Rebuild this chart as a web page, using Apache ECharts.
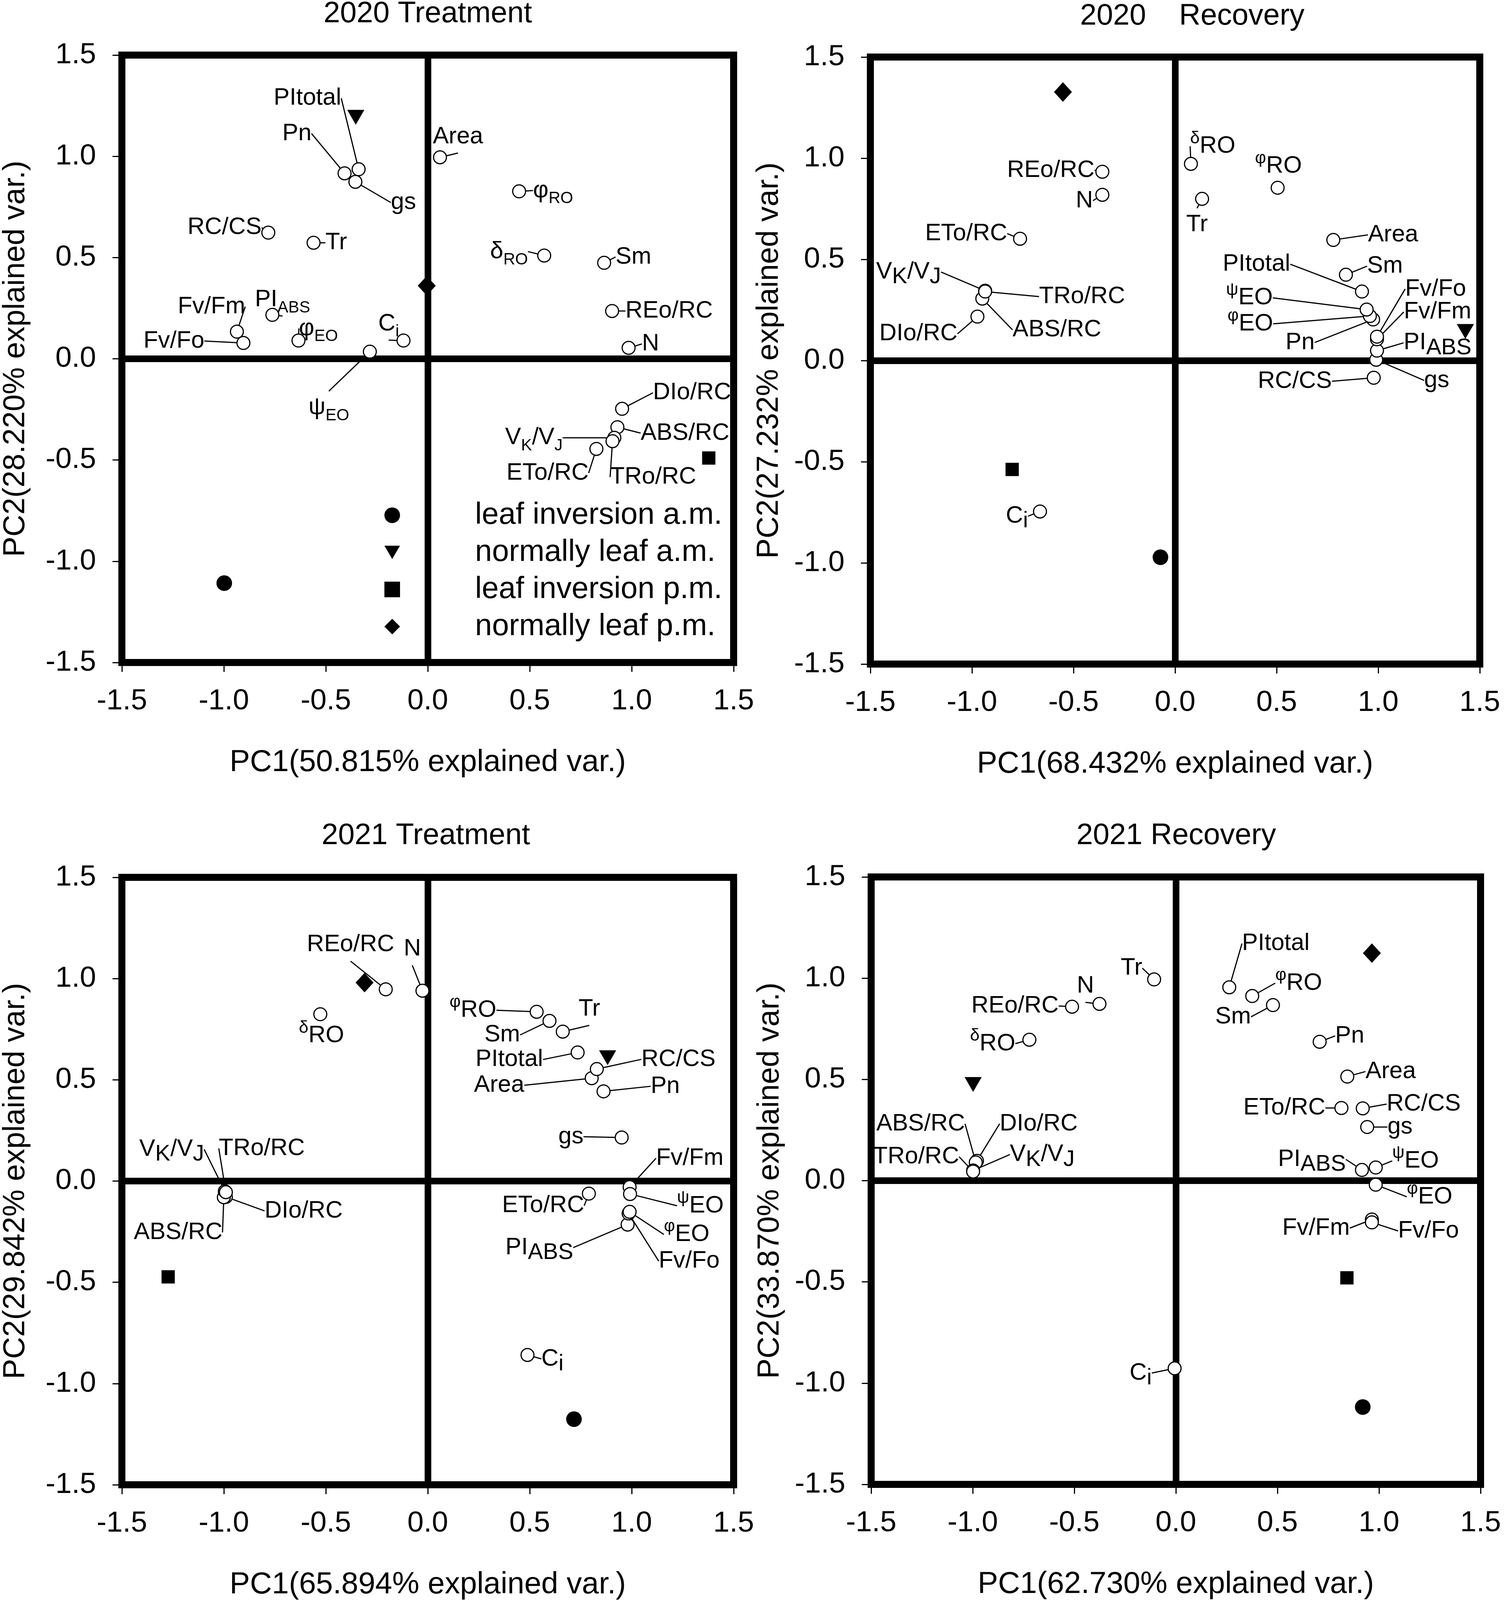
<!DOCTYPE html>
<html>
<head>
<meta charset="utf-8">
<script src="https://cdn.jsdelivr.net/npm/echarts@6/dist/echarts.min.js"></script>
<style>
  html, body { margin: 0; padding: 0; background: #fff; }
  #chart { width: 3850px; height: 4108px; }
</style>
</head>
<body>
<div id="chart"></div>
<script>
const FONT = '"Liberation Sans", Arial, sans-serif';

// variable order: Area, φRO, δRO, Sm, REo/RC, N, DIo/RC, ABS/RC, VK/VJ, TRo/RC, ETo/RC,
// PItotal, Pn, gs, RC/CS, Tr, PIABS, Fv/Fm, Fv/Fo, φEO, ψEO, Ci
const labelsA = ['Area', 'φ{s|RO}', 'δ{s|RO}', 'Sm', 'REo/RC', 'N', 'DIo/RC', 'ABS/RC', 'V{s|K}/V{s|J}', 'TRo/RC', 'ETo/RC',
  'PItotal', 'Pn', 'gs', 'RC/CS', 'Tr', 'PI{s|ABS}', 'Fv/Fm', 'Fv/Fo', 'φ{s|EO}', 'ψ{s|EO}', 'C{s|i}'];
const labelsB = ['Area', '{g|φ}RO', '{g|δ}RO', 'Sm', 'REo/RC', 'N', 'DIo/RC', 'ABS/RC', 'V{S|K}/V{S|J}', 'TRo/RC', 'ETo/RC',
  'PItotal', 'Pn', 'gs', 'RC/CS', 'Tr', 'PI{S|ABS}', 'Fv/Fm', 'Fv/Fo', '{g|φ}EO', '{g|ψ}EO', 'C{S|i}'];

const groupNames = ['leaf inversion a.m.', 'normally leaf a.m.', 'leaf inversion p.m.', 'normally leaf p.m.'];

const titles = ['2020 Treatment', '2020    Recovery', '2021 Treatment', '2021 Recovery'];
const pc1Names = ['PC1(50.815% explained var.)', 'PC1(68.432% explained var.)', 'PC1(65.894% explained var.)', 'PC1(62.730% explained var.)'];
const pc2Names = ['PC2(28.220% explained var.)', 'PC2(27.232% explained var.)', 'PC2(29.842% explained var.)', 'PC2(33.870% explained var.)'];

// 2020 treatment loadings
const t20X = [0.06, 0.448, 0.571, 0.865, 0.904, 0.985, 0.953, 0.93, 0.915, 0.906, 0.827,
  -0.339, -0.408, -0.355, -0.782, -0.56, -0.762, -0.936, -0.904, -0.634, -0.284, -0.119];
const t20Y = [0.995, 0.827, 0.51, 0.474, 0.236, 0.054, -0.247, -0.338, -0.39, -0.407, -0.445,
  0.936, 0.916, 0.874, 0.623, 0.573, 0.217, 0.134, 0.078, 0.09, 0.035, 0.09];
// 2020 recovery loadings
const r20X = [0.779, 0.505, 0.078, 0.841, -0.358, -0.358, -0.973, -0.949, -0.935, -0.935, -0.763,
  0.92, 0.975, 0.99, 0.978, 0.133, 0.994, 0.994, 0.994, 0.959, 0.943, -0.665];
const r20Y = [0.596, 0.854, 0.972, 0.424, 0.933, 0.819, 0.217, 0.306, 0.345, 0.341, 0.602,
  0.341, 0.203, 0.004, -0.085, 0.799, 0.049, 0.105, 0.118, 0.22, 0.252, -0.746];
// 2021 treatment loadings
const t21X = [0.804, 0.534, -0.527, 0.597, -0.206, -0.026, -0.99, -1.0, -0.995, -0.99, 0.79,
  0.735, 0.862, 0.951, 0.829, 0.662, 0.98, 0.99, 0.985, 0.99, 0.992, 0.489];
const t21Y = [0.508, 0.836, 0.824, 0.791, 0.947, 0.94, -0.078, -0.08, -0.05, -0.055, -0.062,
  0.635, 0.443, 0.215, 0.553, 0.738, -0.215, -0.03, -0.16, -0.152, -0.064, -0.859];
// 2021 recovery loadings
const r21X = [0.844, 0.376, -0.721, 0.478, -0.511, -0.376, -0.979, -0.985, -0.998, -0.998, 0.815,
  0.263, 0.708, 0.942, 0.92, -0.107, 0.916, 0.965, 0.965, 0.984, 0.984, -0.006];
const r21Y = [0.514, 0.912, 0.696, 0.867, 0.859, 0.873, 0.098, 0.09, 0.05, 0.045, 0.359,
  0.955, 0.686, 0.265, 0.357, 0.994, 0.053, -0.192, -0.206, -0.02, 0.065, -0.927];

// group scores (same order as groupNames)
const t20GX = [-0.998, -0.353, 1.378, -0.005];
const t20GY = [-1.108, 1.193, -0.49, 0.361];
const r20GX = [-0.072, 1.429, -0.802, -0.552];
const r20GY = [-0.972, 0.144, -0.538, 1.327];
const t21GX = [0.717, 0.882, -1.273, -0.31];
const t21GY = [-1.176, 0.609, -0.473, 0.98];
const r21GX = [0.92, -0.998, 0.842, 0.965];
const r21GY = [-1.118, 0.475, -0.48, 1.124];

// label offsets from each point, in pixels (layout only)
const offT20 = [[46, -53], [87, -2], [-90, -10], [75, -15], [146, 0], [56, -10], [179, -41], [173, 15], [-206, 0], [104, 92], [-125, 62],
  [-131, -182], [-122, -102], [123, 53], [-112, -13], [58, 0], [26, -39], [-65, -64], [-178, -5], [51, -31], [-105, 143], [-38, -43]];
const offR20 = [[153, -13], [2, -55], [56, -45], [100, -22], [-132, -4], [-46, 15], [-151, 44], [191, 80], [-196, -48], [248, 13], [-138, -13],
  [-270, -70], [-187, 59], [155, 53], [-202, 9], [-13, 66], [155, -20], [155, -70], [150, -122], [-306, 20], [-300, -30], [-59, 12]];
const offT21 = [[-237, 18], [-163, -4], [3, 55], [-121, 36], [-90, -114], [-26, -107], [199, 36], [-117, 90], [-136, -107], [92, -112], [-117, 31],
  [-175, 18], [158, -13], [-130, -2], [209, -25], [68, -58], [-226, 59], [154, -74], [155, 122], [146, 58], [180, 30], [64, 10]];
const offR21 = [[111, -13], [119, -33], [-94, 10], [-102, 30], [-146, -2], [-36, -46], [158, -95], [-141, -99], [177, -41], [-146, -38], [-146, 0],
  [119, -112], [77, -15], [84, 0], [156, -11], [-58, -29], [-128, -27], [-143, 22], [145, 22], [138, 31], [102, -17], [-87, 12]];

const panels = [
  { xs: t20X, ys: t20Y, gx: t20GX, gy: t20GY, labels: labelsA, offs: offT20 },
  { xs: r20X, ys: r20Y, gx: r20GX, gy: r20GY, labels: labelsB, offs: offR20 },
  { xs: t21X, ys: t21Y, gx: t21GX, gy: t21GY, labels: labelsB, offs: offT21 },
  { xs: r21X, ys: r21Y, gx: r21GX, gy: r21GY, labels: labelsB, offs: offR21 }
];

const grids = [
  { left: 312, top: 141, width: 1566, height: 1555 },
  { left: 2228, top: 146, width: 1560, height: 1554 },
  { left: 312, top: 2246, width: 1566, height: 1555 },
  { left: 2230, top: 2245, width: 1560, height: 1555 }
];
const yNameGap = [233, 220, 233, 220];
const titlePos = [[1095, 36], [3052, 42], [1090, 2140], [3011, 2140]];

const groupSymbols = ['circle', 'path://M0,0L20,0L10,17Z', 'rect', 'diamond'];
const groupSizes = [40, [44, 38], 34, [46, 50]];

const tickFmt = v => v.toFixed(1);

const xAxes = [], yAxes = [], series = [];
grids.forEach((g, i) => {
  const axisCommon = {
    type: 'value', gridIndex: i, min: -1.5, max: 1.5, interval: 0.5,
    splitLine: { show: false },
    axisLine: { show: true, onZero: false, lineStyle: { color: '#000', width: 18 } },
    axisTick: { show: true, inside: false, length: 24, lineStyle: { color: '#000', width: 3 } },
    nameLocation: 'middle',
    nameTextStyle: { fontSize: 78, color: '#000', fontFamily: FONT }
  };
  xAxes.push(Object.assign({}, axisCommon, {
    position: 'bottom', name: pc1Names[i], nameGap: 217,
    axisLabel: { fontSize: 75, color: '#000', fontFamily: FONT, margin: 62, formatter: tickFmt }
  }));
  yAxes.push(Object.assign({}, axisCommon, {
    position: 'left', name: pc2Names[i], nameGap: yNameGap[i],
    axisLabel: { fontSize: 75, color: '#000', fontFamily: FONT, margin: 66, formatter: tickFmt }
  }));

  const p = panels[i];
  series.push({
    type: 'scatter', xAxisIndex: i, yAxisIndex: i, z: 3,
    data: p.xs.map((x, k) => [x, p.ys[k]]),
    symbol: 'circle', symbolSize: 33,
    itemStyle: { color: '#fff', borderColor: '#000', borderWidth: 3, opacity: 1 },
    label: {
      show: true, position: 'inside', color: '#000', fontSize: 61, fontFamily: FONT, lineHeight: 84,
      formatter: prm => p.labels[prm.dataIndex],
      rich: {
        s: { fontSize: 42, lineHeight: 42, verticalAlign: 'bottom', color: '#000', fontFamily: FONT },
        S: { fontSize: 58, lineHeight: 58, verticalAlign: 'bottom', color: '#000', fontFamily: FONT },
        g: { fontSize: 44, lineHeight: 44, verticalAlign: 'top', color: '#000', fontFamily: FONT }
      }
    },
    labelLine: { show: true, lineStyle: { color: '#000', width: 3 } },
    labelLayout: prm => ({ dx: p.offs[prm.dataIndex][0], dy: p.offs[prm.dataIndex][1] }),
    emphasis: { disabled: true },
    markLine: {
      silent: true, z: 1, symbol: ['none', 'none'], label: { show: false },
      lineStyle: { color: '#000', width: 17, type: 'solid', opacity: 1 },
      emphasis: { disabled: true },
      data: [{ xAxis: 0 }, { yAxis: 0 }]
    }
  });
  groupNames.forEach((name, k) => {
    series.push({
      type: 'scatter', name: name, xAxisIndex: i, yAxisIndex: i, z: 4,
      data: [[p.gx[k], p.gy[k]]],
      symbol: groupSymbols[k], symbolSize: groupSizes[k],
      itemStyle: { color: '#000', opacity: 1 },
      emphasis: { disabled: true }
    });
  });
});

const chart = echarts.init(document.getElementById('chart'));
chart.setOption({
  animation: false,
  backgroundColor: '#fff',
  textStyle: { fontFamily: FONT },
  grid: grids.map(g => Object.assign({ show: true, borderColor: '#000', borderWidth: 18, containLabel: false }, g)),
  xAxis: xAxes,
  yAxis: yAxes,
  legend: {
    data: groupNames, orient: 'vertical', left: 979, top: 1274,
    itemWidth: 40, itemHeight: 40, itemGap: 15, selectedMode: false,
    itemStyle: { opacity: 1 },
    textStyle: { fontSize: 78, lineHeight: 80, color: '#000', fontFamily: FONT, padding: [0, 0, 0, 187] }
  },
  graphic: titles.map((t, i) => ({
    type: 'text', x: titlePos[i][0], y: titlePos[i][1],
    style: { text: t, fontSize: 76, fontFamily: FONT, fill: '#000', textAlign: 'center', textVerticalAlign: 'middle' }
  })),
  series: series
});
</script>
</body>
</html>
